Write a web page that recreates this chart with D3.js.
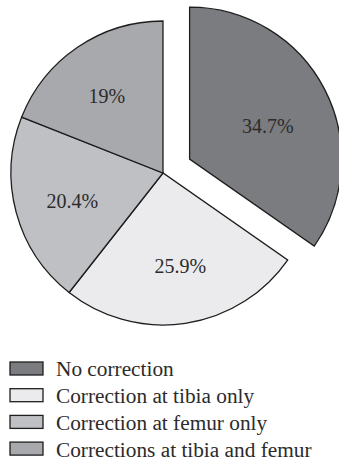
<!DOCTYPE html>
<html>
<head>
<meta charset="utf-8">
<script src="https://cdn.jsdelivr.net/npm/d3@7/dist/d3.min.js"></script>
<style>
  html, body { margin: 0; padding: 0; background: #fff; }
  svg { display: block; }
</style>
</head>
<body>
<svg id="chart" width="339" height="462"></svg>
<script>
// Share of patients by type of correction
const categories = [
  "No correction",
  "Correction at tibia only",
  "Correction at femur only",
  "Corrections at tibia and femur"
];
const values = [34.7, 25.9, 20.4, 19];
const valueLabels = ["34.7%", "25.9%", "20.4%", "19%"];
const fills = ["#7b7c80", "#ebebed", "#bfc0c3", "#a8a9ad"];
const exploded = [true, false, false, false];

const svg = d3.select("#chart");
const cx = 163, cy = 173, radius = 152, explodeBy = 30;
const fontFamily = "'Liberation Serif', 'Times New Roman', serif";

const pie = d3.pie().sort(null).value(d => d.value);
const arcs = pie(values.map((v, i) => ({ value: v, i })));
const arc = d3.arc().innerRadius(0).outerRadius(radius);

const g = svg.append("g").attr("transform", `translate(${cx},${cy})`);

const midAngle = d => (d.startAngle + d.endAngle) / 2;

const slice = g.selectAll("g.slice")
  .data(arcs)
  .join("g")
  .attr("class", "slice")
  .attr("transform", d => {
    if (!exploded[d.data.i]) return null;
    const a = midAngle(d);
    return `translate(${Math.sin(a) * explodeBy},${-Math.cos(a) * explodeBy})`;
  });

slice.append("path")
  .attr("d", arc)
  .attr("fill", d => fills[d.data.i])
  .attr("stroke", "#1e1e1e")
  .attr("stroke-width", 1.3)
  .attr("stroke-linejoin", "miter");

// Labels sit inside each wedge; the pulled-out wedge keeps its label a bit
// closer in and lower so it stays clear of the cut edge.
slice.append("text")
  .attr("transform", d => {
    const pulled = exploded[d.data.i];
    const a = midAngle(d) + (pulled ? 0.08 : -0.035);
    const r = pulled ? 85 : 95;
    return `translate(${Math.sin(a) * r},${-Math.cos(a) * r})`;
  })
  .attr("text-anchor", "middle")
  .attr("dy", "0.35em")
  .attr("font-family", fontFamily)
  .attr("font-size", 20)
  .attr("fill", "#2b2b2b")
  .text(d => valueLabels[d.data.i]);

// Legend
const legend = svg.append("g").attr("transform", "translate(10,362)");
const rowH = 26.7;
const item = legend.selectAll("g.item")
  .data(categories)
  .join("g")
  .attr("class", "item")
  .attr("transform", (d, i) => `translate(0,${i * rowH})`);

item.append("rect")
  .attr("x", 0).attr("y", 0)
  .attr("width", 33).attr("height", 13)
  .attr("fill", (d, i) => fills[i])
  .attr("stroke", "#1e1e1e")
  .attr("stroke-width", 1.3);

item.append("text")
  .attr("x", 46)
  .attr("y", 7)
  .attr("dy", "0.35em")
  .attr("font-family", fontFamily)
  .attr("font-size", 21.3)
  .attr("fill", "#2b2b2b")
  .text(d => d);
</script>
</body>
</html>
